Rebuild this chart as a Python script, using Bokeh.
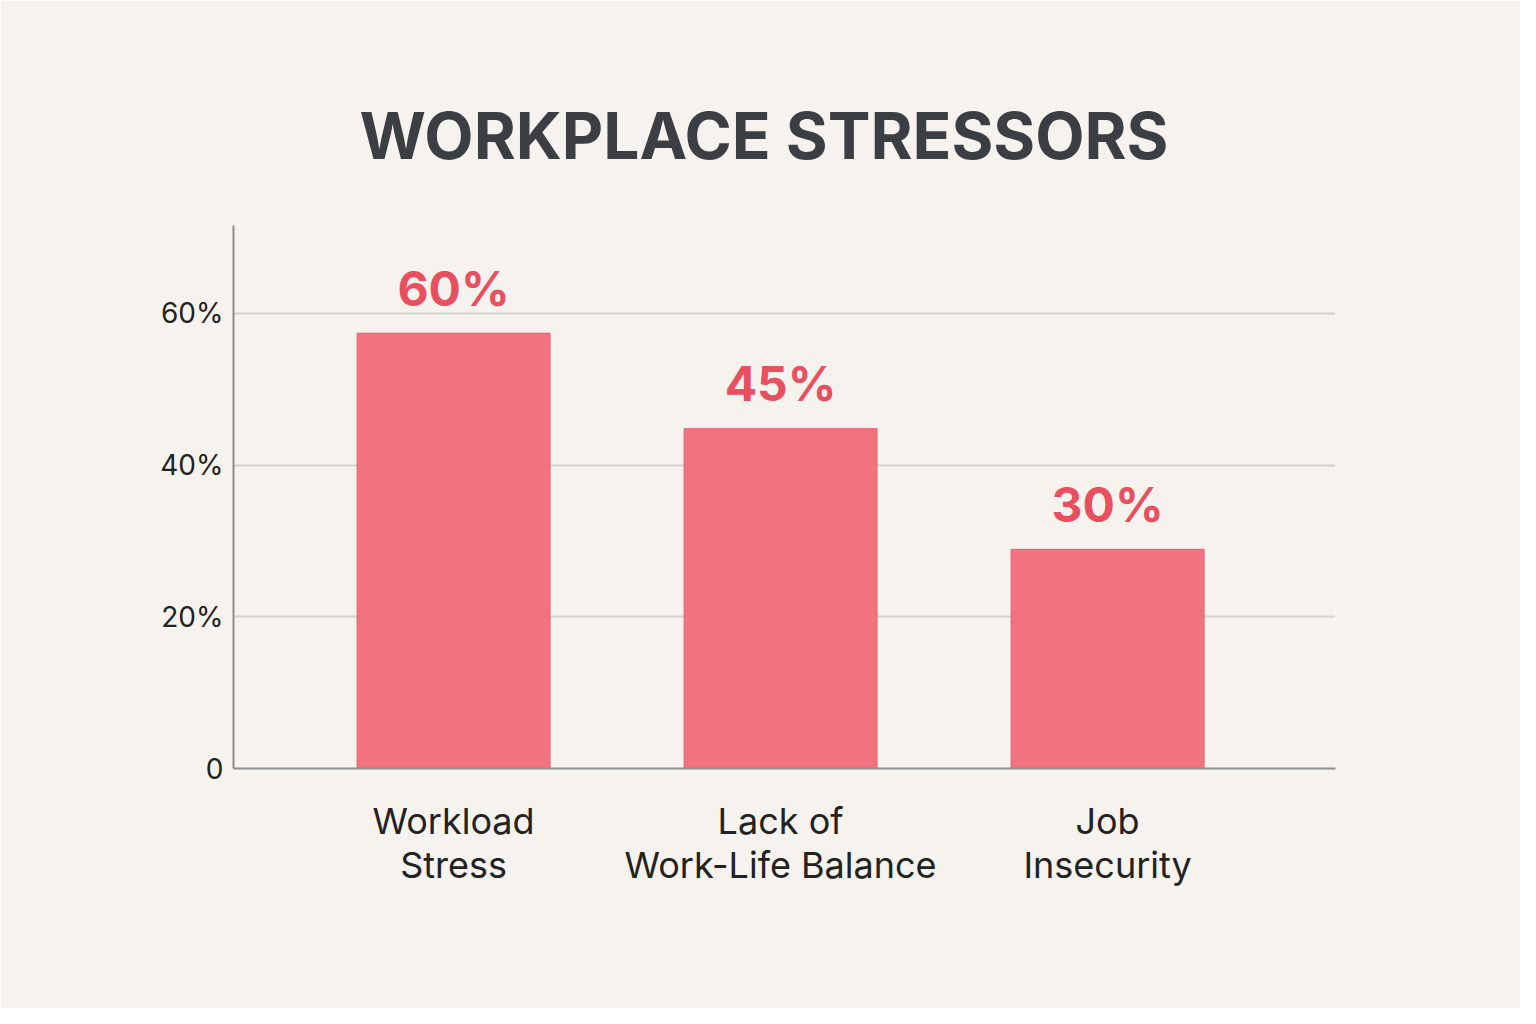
from bokeh.plotting import figure
from bokeh.models import FixedTicker, Range1d
from bokeh.embed import file_html
from bokeh.resources import INLINE
from bokeh.core.properties import value

# data
categories = ["Workload\nStress", "Lack of\nWork-Life Balance", "Job\nInsecurity"]
bar_heights = [57.4, 44.8, 28.9]          # drawn bar tops (in % units)
bar_labels = ["60%", "45%", "30%"]        # printed value labels
y_ticks = [0, 20, 40, 60]
y_tick_labels = ["0", "20%", "40%", "60%"]

BG = "#f6f3ef"
BAR = "#f0737f"
BAR_EDGE = "#e3606e"
LABEL_RED = "#e8505f"
INK = "#222222"

xs = list(range(len(categories)))

p = figure(
    width=1520,
    height=1008,
    x_range=Range1d(-0.673, 2.697),
    y_range=Range1d(0, 71.6),
    output_backend="svg",
    toolbar_location=None,
    tools="",
    min_border_left=233,
    min_border_right=185,
    min_border_top=225,
    min_border_bottom=240,
)
p.background_fill_color = BG
p.border_fill_color = BG
p.outline_line_color = None

# title
p.title.text = "WORKPLACE STRESSORS"
p.title.align = "left"
p.title.offset = 126
p.title.standoff = 104
p.title.text_font = "Inter"
p.title.text_font_size = "64px"
p.title.text_font_style = "bold"
p.title.text_color = "#3b3e42"

# bars + value labels
p.vbar(x=xs, top=bar_heights, width=0.59, fill_color=BAR,
       line_color=BAR_EDGE, line_width=1)
p.text(x=xs, y=bar_heights, text=bar_labels, y_offset=-45,
       text_align="center", text_baseline="middle",
       text_font=value("Inter"), text_font_size="48px",
       text_font_style="bold", text_color=LABEL_RED)

# grid: only horizontal lines at the labelled ticks
p.xgrid.grid_line_color = None
p.ygrid.ticker = FixedTicker(ticks=[20, 40, 60])
p.ygrid.grid_line_color = "#d6d2cc"
p.ygrid.grid_line_width = 2

# y axis
p.yaxis.ticker = FixedTicker(ticks=y_ticks)
p.yaxis.major_label_overrides = dict(zip(y_ticks, y_tick_labels))
p.yaxis.major_tick_line_color = None
p.yaxis.minor_tick_line_color = None
p.yaxis.axis_line_color = "#8e8e8e"
p.yaxis.axis_line_width = 2
p.yaxis.major_label_text_font = "Inter"
p.yaxis.major_label_text_font_size = "28px"
p.yaxis.major_label_text_color = INK
p.yaxis.major_label_standoff = 4

# x axis with two-line category labels
p.xaxis.ticker = FixedTicker(ticks=xs)
p.xaxis.major_label_overrides = dict(zip(xs, categories))
p.xaxis.major_tick_line_color = None
p.xaxis.minor_tick_line_color = None
p.xaxis.axis_line_color = "#8e8e8e"
p.xaxis.axis_line_width = 2
p.xaxis.major_label_text_font = "Inter"
p.xaxis.major_label_text_font_size = "36px"
p.xaxis.major_label_text_line_height = 1.0
p.xaxis.major_label_text_color = INK
p.xaxis.major_label_standoff = 24

open("out.html", "w").write(file_html(p, INLINE))
